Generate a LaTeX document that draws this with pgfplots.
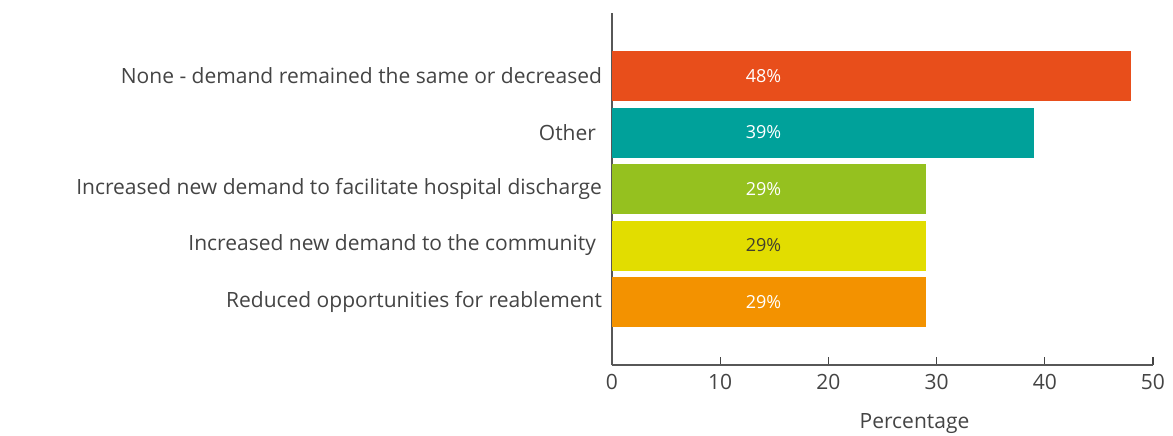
\documentclass[border=0pt]{standalone}
\usepackage{pgfplots}
\pgfplotsset{compat=1.18}
\usepackage{fontspec}
\setmainfont{Open Sans}
\definecolor{cRed}{HTML}{E84E1B}
\definecolor{cTeal}{HTML}{00A19A}
\definecolor{cGreen}{HTML}{95C11F}
\definecolor{cYellow}{HTML}{E2DD00}
\definecolor{cOrange}{HTML}{F39200}
\definecolor{txt}{HTML}{444444}
\begin{document}
\begin{tikzpicture}
\begin{axis}[
  scale only axis,
  width=270.5pt, height=176pt,
  xmin=0, xmax=50, ymin=-1.115, ymax=5.115,
  axis lines*=left,
  axis line style={draw=txt!90, line width=0.6pt},
  xtick={0,10,20,30,40,50},
  xtick style={draw=txt, line width=0.6pt},
  tick align=inside,
  major tick length=4pt,
  ytick={0,1,2,3,4},
  yticklabels={Reduced opportunities for reablement, Increased new demand to the community\hspace*{3pt}, Increased new demand to facilitate hospital discharge, Other\hspace*{3pt}, None - demand remained the same or decreased},
  ytick style={draw=none},
  yticklabel style={font=\fontsize{10.5}{12}\selectfont, text=txt, xshift=-1.5pt},
  xticklabel style={font=\fontsize{10.5}{12}\selectfont, text=txt, yshift=-1pt},
  /pgf/number format/assume math mode=true,
  xlabel={Percentage},
  xlabel style={font=\fontsize{10.5}{12}\selectfont, text=txt, xshift=16pt, yshift=-5pt},
  clip=false,
]
\addplot[xbar, bar shift=0pt, bar width=25pt, draw=none, fill=cOrange] coordinates {(29,0)};
\addplot[xbar, bar shift=0pt, bar width=25pt, draw=none, fill=cYellow] coordinates {(29,1)};
\addplot[xbar, bar shift=0pt, bar width=25pt, draw=none, fill=cGreen] coordinates {(29,2)};
\addplot[xbar, bar shift=0pt, bar width=25pt, draw=none, fill=cTeal] coordinates {(39,3)};
\addplot[xbar, bar shift=0pt, bar width=25pt, draw=none, fill=cRed] coordinates {(48,4)};
\addplot[only marks, mark=none, nodes near coords={\pgfmathprintnumber{\pgfplotspointmeta}\%},
  point meta=explicit,
  nodes near coords style={font=\fontsize{9}{10}\selectfont, text=white, anchor=center}]
  table[meta=v] {
x y v
14 0 29
14 2 29
14 3 39
14 4 48
};
\addplot[only marks, mark=none, nodes near coords={\pgfmathprintnumber{\pgfplotspointmeta}\%},
  point meta=explicit,
  nodes near coords style={font=\fontsize{9}{10}\selectfont, text=black!70!olive, anchor=center}]
  table[meta=v] {
x y v
14 1 29
};
\coordinate (O) at (rel axis cs:0,0);
\end{axis}
\pgfresetboundingbox
\path (O) ++(-306pt,-35pt) rectangle ++(586.5pt,217.5pt);
\end{tikzpicture}
\end{document}
